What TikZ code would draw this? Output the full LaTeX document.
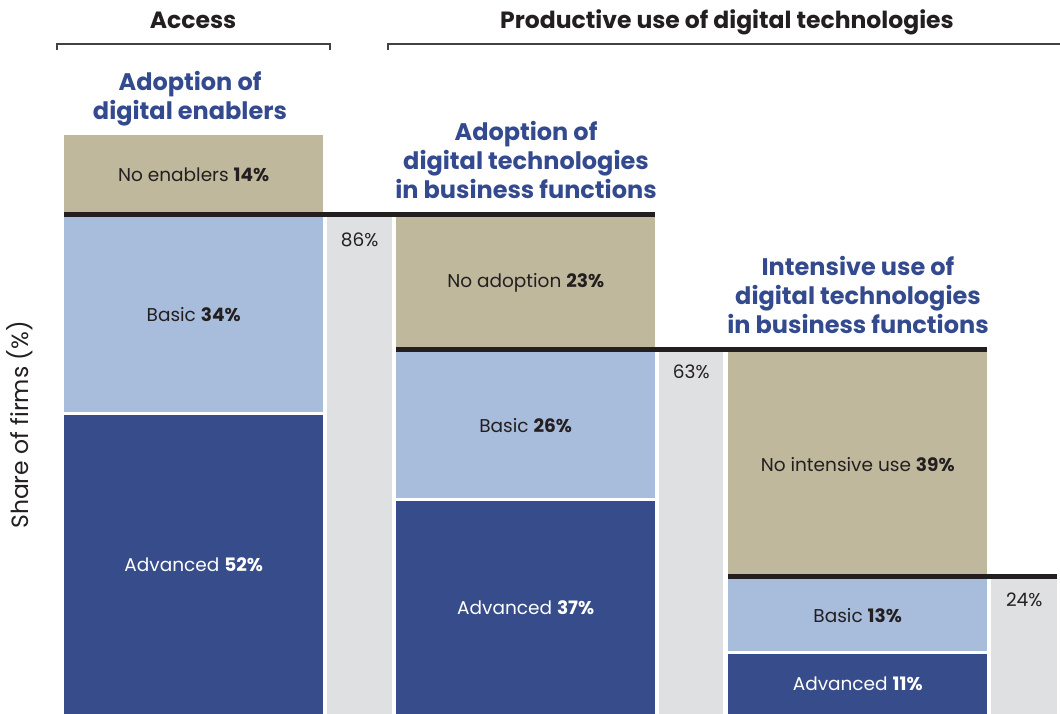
\documentclass[tikz,border=0pt]{standalone}
\usepackage{fontspec}
\setmainfont{Poppins}
\definecolor{nonetan}{RGB}{192,184,156}
\definecolor{basicblue}{RGB}{168,188,220}
\definecolor{advblue}{RGB}{55,76,138}
\definecolor{restgray}{RGB}{223,224,226}
\definecolor{titleblue}{RGB}{52,74,142}
\definecolor{cutblack}{RGB}{35,31,32}
\begin{document}
\begin{tikzpicture}[x=1pt,y=-1pt,
    seg/.style={anchor=north west,inner sep=0pt,minimum width=259pt,font=\fontsize{18.5}{22}\selectfont,text=cutblack},
    nonebox/.style={seg,fill=nonetan},
    basicbox/.style={seg,fill=basicblue},
    advbox/.style={seg,fill=advblue,text=white},
    restbox/.style={anchor=north west,inner sep=0pt,fill=restgray,minimum width=65pt},
    pct/.style={anchor=north,inner sep=0pt,font=\fontsize{18.5}{22}\selectfont,text=cutblack},
    cut/.style={line width=4.5pt,draw=cutblack},
    title/.style={align=center,text=titleblue,font=\fontsize{24}{29}\selectfont\bfseries},
    head/.style={text=cutblack,font=\fontsize{23.5}{28}\selectfont\bfseries},
    brace/.style={line width=1.1pt,draw=cutblack!85}]
  \useasboundingbox (0,0) rectangle (1060,714);

  \node[head] (access) at (193,20) {Access};
  \node[head] (prod) at (727,22) {Productive use of digital technologies};
  \coordinate (a1) at (57,50); \coordinate (a2) at (330,50);
  \coordinate (p1) at (388,50); \coordinate (p2) at (1060,44);
  \draw[brace] (a1) -- (a1 |- 0,44) -- (a2 |- 0,44) -- (a2);
  \draw[brace] (p1) -- (p1 |- p2) -- (p2);

  \node[rotate=90,text=cutblack,font=\fontsize{23.5}{28}\selectfont] (yaxis) at (20,425) {Share of firms (\%)};

  \node[nonebox,minimum height=79pt] (none1) at (64,135) {No enablers \textbf{14\%}};
  \node[basicbox,minimum height=195pt] (basic1) at (64,217) {Basic \textbf{34\%}};
  \node[advbox,minimum height=299pt] (adv1) at (64,415) {Advanced \textbf{52\%}};
  \node[restbox,minimum height=497pt] (rest1) at (327,217) {};
  \node[pct] (pct1) at ([yshift=-16pt]rest1.north) {86\%};

  \node[nonebox,minimum height=132pt] (none2) at (396,217) {No adoption \textbf{23\%}};
  \node[basicbox,minimum height=146pt] (basic2) at (396,352) {Basic \textbf{26\%}};
  \node[advbox,minimum height=213pt] (adv2) at (396,501) {Advanced \textbf{37\%}};
  \node[restbox,minimum height=362pt,minimum width=64pt] (rest2) at (659,352) {};
  \node[pct] (pct2) at ([yshift=-13pt]rest2.north) {63\%};

  \node[nonebox,minimum height=224pt] (none3) at (728,352) {No intensive use \textbf{39\%}};
  \node[basicbox,minimum height=72pt] (basic3) at (728,579) {Basic \textbf{13\%}};
  \node[advbox,minimum height=60pt] (adv3) at (728,654) {Advanced \textbf{11\%}};
  \node[restbox,minimum height=135pt,minimum width=66pt] (rest3) at (991,579) {};
  \node[pct] (pct3) at ([yshift=-14pt]rest3.north) {24\%};

  \draw[cut] (none1.south west) -- (none1.south west -| none2.east);
  \draw[cut] (none2.south west) -- (none2.south west -| none3.east);
  \draw[cut] (none3.south west) -- (none3.south west -| rest3.east);

  \node[title] (t1) at (190,99) {Adoption of\\digital enablers};
  \node[title] (t2) at (526,160) {Adoption of\\digital technologies\\in business functions};
  \node[title] (t3) at (858,295) {Intensive use of\\digital technologies\\in business functions};
\end{tikzpicture}
\end{document}
